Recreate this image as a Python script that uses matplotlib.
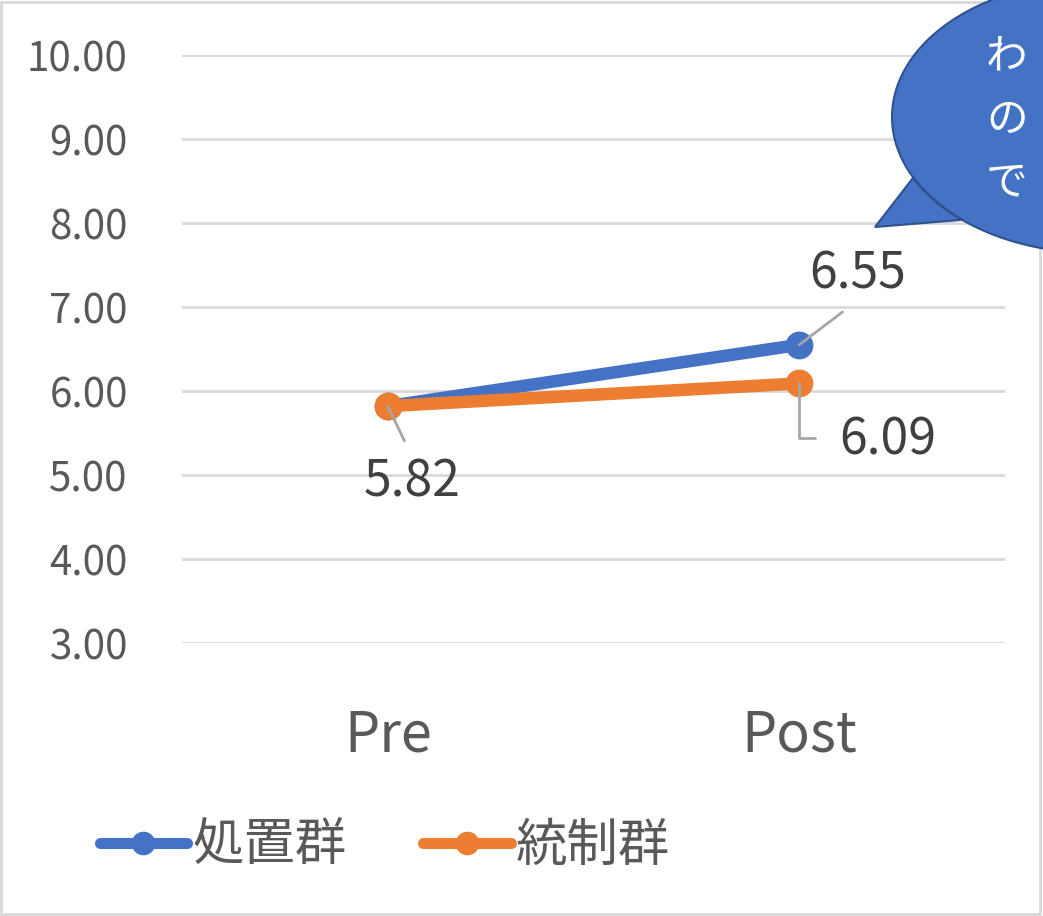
import numpy as np
import matplotlib
matplotlib.use("Agg")
import matplotlib.pyplot as plt
from matplotlib.lines import Line2D
from matplotlib.patches import Polygon, Rectangle

plt.rcParams['font.family'] = ['Noto Sans CJK JP', 'DejaVu Sans']

categories = ['Pre', 'Post']
treated = [5.82, 6.55]
control = [5.82, 6.09]
series_names = ['処置群', '統制群']
yticks = [3, 4, 5, 6, 7, 8, 9, 10]
callout_lines = ['わ', 'の', 'で']

blue = '#4472C4'
orange = '#ED7D31'
W, H = 1043, 916

fig = plt.figure(figsize=(W / 100, H / 100), dpi=100)
ax = fig.add_axes([182 / W, 1 - 643 / H, (1005 - 182) / W, (643 - 55) / H])

x = np.arange(len(categories))
ax.plot(x, treated, color=blue, lw=9, marker='o', ms=19, solid_capstyle='round', zorder=3)
ax.plot(x, control, color=orange, lw=9, marker='o', ms=19, solid_capstyle='round', zorder=4)

ax.set_xlim(-0.5, 1.5)
ax.set_ylim(3, 10)
ax.set_yticks(yticks)
ax.set_yticklabels(['%.2f' % v for v in yticks])
ax.set_xticks(x)
ax.set_xticklabels(categories)
ax.tick_params(axis='y', length=0, pad=39, labelsize=29, labelcolor='#595959')
ax.tick_params(axis='x', length=0, pad=46, labelsize=40, labelcolor='#595959')
ax.grid(axis='y', color='#D9D9D9', lw=2)
ax.set_axisbelow(True)
for s in ax.spines.values():
    s.set_visible(False)

# data labels with leader lines
lead = dict(arrowstyle='-', color='#A6A6A6', lw=2, shrinkB=0)
ax.annotate('%.2f' % treated[1], xy=(x[1], treated[1]), xytext=(58, 70),
            textcoords='offset pixels', ha='center', va='center', fontsize=36,
            color='#404040', zorder=6,
            arrowprops=dict(lead, relpos=(0.5, 0), shrinkA=10))
ax.annotate('%.2f' % control[1], xy=(x[1], control[1]), xytext=(89, -57),
            textcoords='offset pixels', ha='center', va='center', fontsize=36,
            color='#404040', zorder=6,
            arrowprops=dict(lead, relpos=(0, 0.55), shrinkA=16,
                            connectionstyle='angle,angleA=0,angleB=90,rad=0'))
ax.annotate('%.2f' % control[0], xy=(x[0], control[0]), xytext=(24, -76),
            textcoords='offset pixels', ha='center', va='center', fontsize=36,
            color='#404040', zorder=6,
            arrowprops=dict(lead, relpos=(0.5, 1), shrinkA=10))

# legend
handles = [Line2D([], [], color=blue, lw=8, marker='o', ms=16, solid_capstyle='round'),
           Line2D([], [], color=orange, lw=8, marker='o', ms=16, solid_capstyle='round')]
fig.legend(handles, series_names, loc='center left', bbox_to_anchor=(74 / W, 1 - 846 / H),
           ncol=2, frameon=False, fontsize=37, labelcolor='#595959',
           handlelength=1.7, handletextpad=0.1, columnspacing=1.5, borderpad=0)

# figure border
fig.patches.append(Rectangle((1 / W, 2 / H), (W - 4) / W, (H - 4) / H, transform=fig.transFigure,
                             fill=False, edgecolor='#D9D9D9', lw=2))

# speech bubble callout (clipped at the right edge)
cx, cy, rx, ry = 1095, 117, 203, 136
t1 = np.arctan2((178 - cy) / ry, (912 - cx) / rx)
t2 = np.arctan2((220 - cy) / ry, (962 - cx) / rx)
ts = np.linspace(t2, t1 + 2 * np.pi, 200)
pts = [(cx + rx * np.cos(t), cy + ry * np.sin(t)) for t in ts]
pts.append((875, 227))
pts = [(px / W, 1 - py / H) for px, py in pts]
fig.patches.append(Polygon(pts, closed=True, transform=fig.transFigure,
                           facecolor=blue, edgecolor='#2F528F', lw=1.5, zorder=10))
for i, line in enumerate(callout_lines):
    fig.text(986 / W, 1 - (57 + 63 * i) / H, line, color='white', fontsize=30,
             ha='left', va='center', zorder=11)

fig.savefig('out.png', dpi=100)
